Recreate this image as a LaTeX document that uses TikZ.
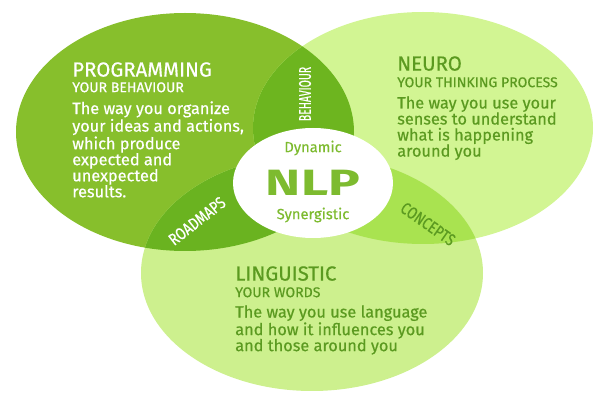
\documentclass[tikz,border=0pt]{standalone}
\usepackage{fontspec}
\setmainfont[FakeBold=0.5]{Fira Sans}
\newfontfamily\narrowfont[FakeStretch=0.62, FakeBold=0.5]{Fira Sans}
\newfontfamily\semifont[FakeStretch=0.8, FakeBold=0.5]{Fira Sans}
\newfontfamily\nlpfont[FakeStretch=1.45]{Fira Sans}
\usetikzlibrary{positioning}
\definecolor{proggreen}{HTML}{87BF2C}
\definecolor{behavgreen}{HTML}{6DB51F}
\definecolor{roadgreen}{HTML}{6AB320}
\definecolor{neurogreen}{HTML}{D2F593}
\definecolor{linggreen}{HTML}{CDF08E}
\definecolor{conceptgreen}{HTML}{A9E350}
\definecolor{inkgreen}{HTML}{5B9A20}
\definecolor{nlpgreen}{HTML}{7DBB2F}
\newcommand{\progset}{(185,132) ellipse [x radius=169, y radius=119]}
\newcommand{\neuroset}{(423,128) ellipse [x radius=170, y radius=116]}
\newcommand{\lingset}{(312,273) ellipse [x radius=171, y radius=118]}
\tikzset{
  headtext/.style = {anchor=north west, inner sep=0pt, font=\fontsize{14.5}{15}\selectfont},
  subtext/.style  = {anchor=north west, inner sep=0pt, font=\fontsize{10}{10}\selectfont},
  bodytext/.style = {anchor=north west, inner sep=0pt, align=left,
                     font=\fontsize{11.6}{11.4}\selectfont},
  tagtext/.style  = {inner sep=0pt, font=\narrowfont\fontsize{12}{12}\selectfont},
  tagslant/.style = {inner sep=0pt, font=\semifont\fontsize{12}{12}\selectfont},
  coretext/.style = {inner sep=0pt, text=nlpgreen, font=\fontsize{10.5}{11}\selectfont},
}

\begin{document}
\begin{tikzpicture}[x=0.025cm, y=-0.025cm]
  \useasboundingbox (0,0) rectangle (600,400);
  \fill[proggreen] \progset;
  \fill[neurogreen] \neuroset;
  \fill[linggreen] \lingset;
  \begin{scope}
    \clip \progset;
    \fill[behavgreen] \neuroset;
    \fill[roadgreen] \lingset;
  \end{scope}
  \begin{scope}
    \clip \neuroset;
    \fill[conceptgreen] \lingset;
  \end{scope}
  \fill[white] (313,183) ellipse [x radius=80, y radius=55];

  \node[headtext, text=white] (progtitle) at (72,62) {PROGRAMMING};
  \node[subtext, text=white] (progsub) at (72,82) {YOUR BEHAVIOUR};
  \node[bodytext, text=white] (progbody) at (72,101)
    {The way you organize\\your ideas and actions,\\which produce\\expected and\\unexpected\\results.};

  \node[headtext, text=inkgreen] (neurotitle) at (397,56) {NEURO};
  \node[subtext, text=inkgreen] (neurosub) at (397,77) {YOUR THINKING PROCESS};
  \node[bodytext, text=inkgreen] (neurobody) at (397,96)
    {The way you use your\\senses to understand\\what is happening\\around you};

  \node[headtext, text=inkgreen] (lingtitle) at (235,266) {LINGUISTIC};
  \node[subtext, text=inkgreen] (lingsub) at (235,287) {YOUR WORDS};
  \node[bodytext, text=inkgreen] (lingbody) at (235,305)
    {The way you use language\\and how it influences you\\and those around you};

  \node[coretext] (dynamic) at (313,148) {Dynamic};
  \node[inner sep=0pt, text=nlpgreen, font=\nlpfont\bfseries\fontsize{26}{26}\selectfont] (nlp) at (313,183) {NLP};
  \node[coretext] (synergy) at (313,215) {Synergistic};

  \node[tagtext, text=white, rotate=90] (behaviour) at (305,94) {BEHAVIOUR};
  \node[tagslant, text=white, rotate=38] (roadmaps) at (197,221) {ROADMAPS};
  \node[tagslant, text=inkgreen, rotate=-35] (concepts) at (428,224) {CONCEPTS};
\end{tikzpicture}
\end{document}
